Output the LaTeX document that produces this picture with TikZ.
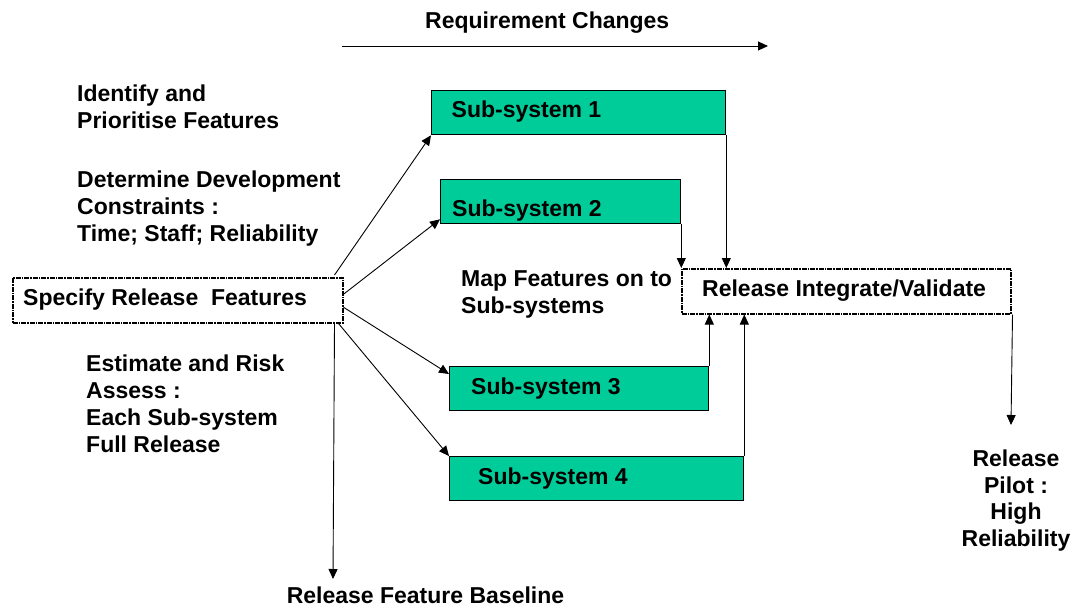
\documentclass[tikz,border=0pt]{standalone}
\usepackage{fontspec}
\setmainfont{Liberation Sans}
\usetikzlibrary{arrows.meta}
\definecolor{ssgreen}{RGB}{0,204,153}
\begin{document}
\begin{tikzpicture}[x=1pt,y=-1pt,
  font=\bfseries\fontsize{23}{27}\selectfont,
  ssbox/.style={draw=black,line width=1.3pt,fill=ssgreen,inner sep=0pt,anchor=north west,minimum height=44pt},
  wbox/.style={draw=black,line width=1.5pt,dash pattern=on 5pt off 1pt on 1.5pt off 1pt,inner sep=0pt,anchor=north west,minimum height=45pt},
  lbl/.style={anchor=base west,inner sep=0pt,align=left},
  arr/.style={-{Triangle[length=10pt,width=9pt]},line width=0.9pt}]
\useasboundingbox (0,0) rectangle (1078,610);
% boxes
\node[wbox,minimum width=330pt] (spec) at (12,277) {};
\node[wbox,minimum width=329pt] (ri) at (681,268) {};
\node[ssbox,minimum width=294pt] (ss1) at (431,90) {};
\node[ssbox,minimum width=240pt] (ss2) at (440,179) {};
\node[ssbox,minimum width=259pt] (ss3) at (449,366) {};
\node[ssbox,minimum width=294pt] (ss4) at (449,456) {};
% box texts
\node[lbl] (tspec) at (23,305.5) {Specify Release~~Features};
\node[lbl] (tri) at (702,296.5) {Release Integrate/Validate};
\node[lbl] (t1) at (451.5,117) {Sub-system 1};
\node[lbl] (t2) at (452,216) {Sub-system 2};
\node[lbl] (t3) at (471,394) {Sub-system 3};
\node[lbl] (t4) at (478,484) {Sub-system 4};
% free texts (base anchor = last line's baseline)
\node[lbl] (req) at (425,29) {Requirement Changes};
\node[lbl] (ident) at (77,128) {Identify and\\Prioritise Features};
\node[lbl] (deter) at (77,241) {Determine Development\\Constraints :\\Time; Staff; Reliability};
\node[lbl] (estim) at (86,452) {Estimate and Risk\\Assess :\\Each Sub-system\\Full Release};
\node[lbl] (mapf) at (461,313) {Map Features on to\\Sub-systems};
\node[anchor=base,inner sep=0pt,align=center,font=\bfseries\fontsize{23}{26.5}\selectfont] (pilot) at (1016,546) {Release\\Pilot :\\High\\Reliability};
\node[anchor=base,inner sep=0pt] (base) at (425.5,603) {Release Feature Baseline};
% free ends
\coordinate (rq1) at (342,46);
\coordinate (rq2) at (768,46);
\coordinate (bdown) at (333,579);
\coordinate (pdown) at (1011,425);
% connectors
\draw[arr] (rq1) -- (rq2);
\draw[arr] ([xshift=-9pt,yshift=2pt]spec.north east) -- (ss1.south west);
\draw[arr] ([yshift=6pt]spec.east) -- ([yshift=5pt]ss2.south west);
\draw[arr] ([yshift=-7pt]spec.east) -- ([yshift=-8pt]ss3.north west);
\draw[arr] ([xshift=-5pt]spec.south east) -- (ss4.north west);
\draw[arr] ([xshift=-9pt]spec.south east) -- (bdown);
\draw[arr] (ss1.south east) -- (ss1.south east |- ri.north);
\draw[arr] (ss2.south east) -- (ss2.south east |- ri.north);
\draw[arr] (ss3.north east) -- (ss3.north east |- ri.south);
\draw[arr] (ss4.north east) -- (ss4.north east |- ri.south);
\draw[arr] ([xshift=1pt]ri.south east) -- (pdown);
\end{tikzpicture}
\end{document}
